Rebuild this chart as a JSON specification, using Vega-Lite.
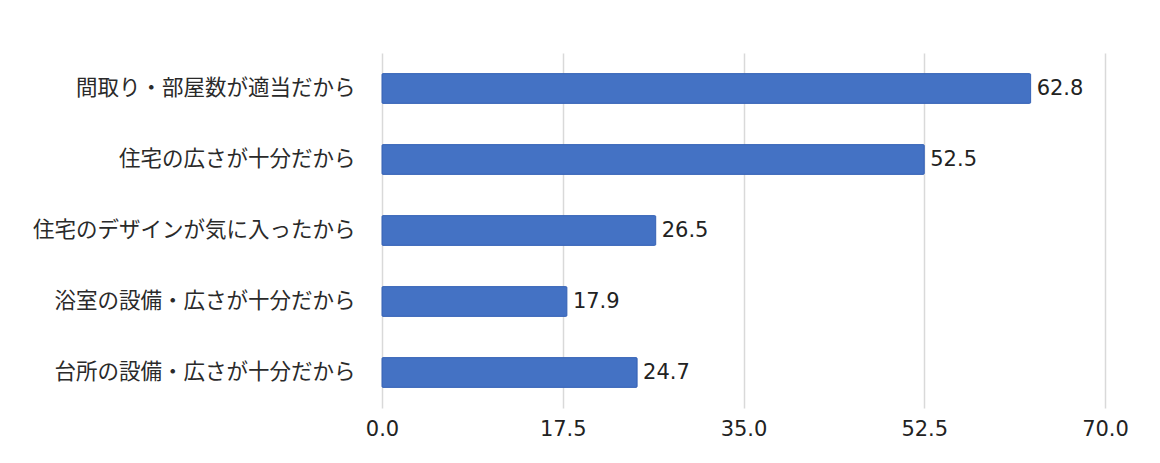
{
  "$schema": "https://vega.github.io/schema/vega-lite/v6.json",
  "autosize": "none",
  "width": 723,
  "height": 355,
  "padding": {"left": 382, "top": 53, "right": 55, "bottom": 55},
  "background": "white",
  "config": {"view": {"stroke": null}, "font": "Noto Sans CJK JP"},
  "data": {"values": [
    {"reason": "間取り・部屋数が適当だから", "value": 62.8},
    {"reason": "住宅の広さが十分だから", "value": 52.5},
    {"reason": "住宅のデザインが気に入ったから", "value": 26.5},
    {"reason": "浴室の設備・広さが十分だから", "value": 17.9},
    {"reason": "台所の設備・広さが十分だから", "value": 24.7}
  ]},
  "encoding": {
    "y": {"field": "reason", "type": "nominal", "sort": null,
      "scale": {"paddingInner": 0.58, "paddingOuter": 0.29},
      "axis": {"title": null, "domain": false, "ticks": false, "labelPadding": 27, "labelLimit": 0, "labelFontSize": 21.5, "labelColor": "#2a2a2a", "labelFont": "Noto Sans CJK JP"}},
    "x": {"field": "value", "type": "quantitative",
      "scale": {"domain": [0, 70], "nice": false},
      "axis": {"title": null, "values": [0, 17.5, 35, 52.5, 70], "format": ".1f", "domain": false, "ticks": false, "labelFlush": false, "labelPadding": 10, "labelFontSize": 21, "labelColor": "#222", "labelFont": "DejaVu Sans", "grid": true, "gridColor": "#d9d9d9", "gridWidth": 1.5}}
  },
  "layer": [
    {"mark": {"type": "bar", "color": "#4472C4", "stroke": "#3a66b8", "strokeWidth": 1, "cornerRadius": 1}},
    {"mark": {"type": "text", "align": "left", "dx": 6, "fontSize": 21, "color": "#222", "font": "DejaVu Sans"},
     "encoding": {"text": {"field": "value", "type": "quantitative", "format": ".1f"}}}
  ]
}
